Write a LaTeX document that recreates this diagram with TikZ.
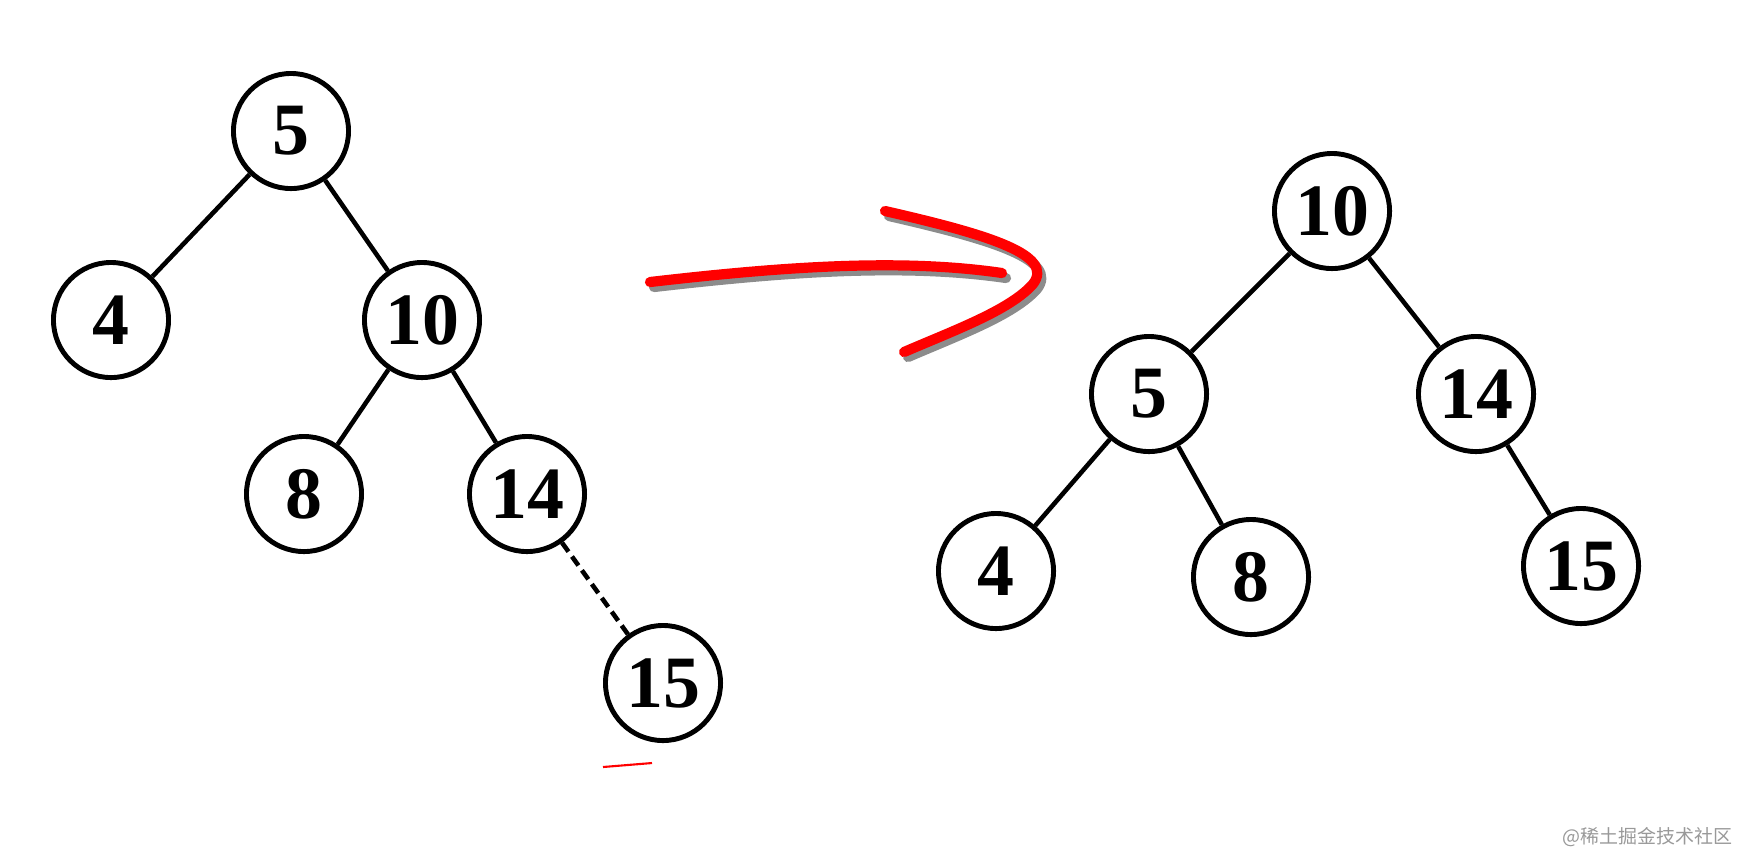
\documentclass[tikz,border=0pt]{standalone}
\usepackage{fontspec}
\setmainfont{Liberation Serif}
\newfontfamily\cjk{Noto Sans CJK SC}
\usepackage{tikz}
\tikzstyle{key}=[draw=black,line width=1.4pt,circle,inner sep=0pt,minimum size=1.15cm,font=\fontsize{21}{25}\selectfont\bfseries]
\tikzstyle{edge}=[line width=1.3pt]
\tikzstyle{stroke}=[line width=2.9pt,line cap=round]

\begin{document}
\begin{tikzpicture}[x=0.01cm,y=-0.01cm]
      \useasboundingbox (0,0) rectangle (1740,853);

      % tree before
      \node[key] (l5) at (291,131) {5};
      \node[key] (l4) at (111,320) {4};
      \node[key] (l10) at (422,320) {10};
      \node[key] (l8) at (304,494) {8};
      \node[key] (l14) at (527,494) {14};
      \node[key] (l15) at (663,683) {15};
      \draw[edge] (l5) -- (l4);
      \draw[edge] (l5) -- (l10);
      \draw[edge] (l10) -- (l8);
      \draw[edge] (l10) -- (l14);
      \draw[edge,dash pattern=on 1.1mm off 0.6mm] (l14) -- (l15);
      \draw[red,line width=0.6pt] (603,767) -- (652,763);

      % tree after
      \node[key] (r10) at (1332,211) {10};
      \node[key] (r5) at (1149,394) {5};
      \node[key] (r14) at (1476,394) {14};
      \node[key] (r4) at (996,571) {4};
      \node[key] (r8) at (1251,577) {8};
      \node[key] (r15) at (1581,566) {15};
      \foreach \a/\b in {r10/r5,r10/r14,r5/r4,r5/r8,r14/r15}{
        \draw[edge] (\a) -- (\b);
      }

      % red arrow
      \begin{scope}[shift={(4,5)}]
        \draw[stroke,black!45] (650,282) .. controls (780,267) and (900,258) .. (1002,273);
        \draw[stroke,black!45] (885,211) .. controls (990,235) and (1055,255) .. (1033,284) .. controls (1010,310) and (955,330) .. (904,352);
      \end{scope}
      \draw[stroke,red] (650,282) .. controls (780,267) and (900,258) .. (1002,273);
      \draw[stroke,red] (885,211) .. controls (990,235) and (1055,255) .. (1033,284) .. controls (1010,310) and (955,330) .. (904,352);

      \node[text=black!40,anchor=east,inner sep=0pt,font=\cjk\fontsize{5.4}{6.5}\selectfont] (mark) at (1733,837) {@稀土掘金技术社区};
\end{tikzpicture}
\end{document}
